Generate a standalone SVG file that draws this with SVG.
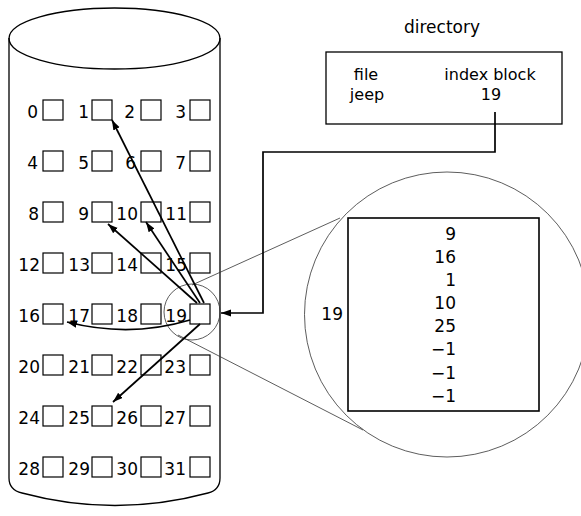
<svg xmlns="http://www.w3.org/2000/svg" width="581" height="516" viewBox="0 0 581 516">
<defs>
<marker id="ah" markerUnits="userSpaceOnUse" markerWidth="11" markerHeight="8" refX="10" refY="3.5" orient="auto">
<path d="M0,0 L10,3.5 L0,7 z" fill="#000"/>
</marker>
</defs>
<style>
text{font-family:"DejaVu Sans","Liberation Sans",sans-serif;font-size:17px;fill:#000}
.lbl{text-anchor:end}
.mid{text-anchor:middle}
.dir{font-size:16px}
.blk{fill:#fff;stroke:#000;stroke-width:1.2}
.outl{fill:none;stroke:#000;stroke-width:1.3}
.thin{fill:none;stroke:#333;stroke-width:0.8}
.arr{fill:none;stroke:#000;stroke-width:1.7;marker-end:url(#ah)}
</style>
<rect width="581" height="516" fill="#fff"/>
<g id="disk">
<path class="outl" d="M9,38 V478 Q9,490 22,493 Q115,518 208,493 Q220,490 220,478 V38"/>
<ellipse class="outl" cx="114.5" cy="38.5" rx="105.5" ry="30.5" fill="#fff"/>
</g>
<g id="blocks">
<g id="b0"><rect class="blk" x="43" y="100" width="20" height="20"/><text class="lbl" x="38" y="118">0</text></g>
<g id="b1"><rect class="blk" x="92" y="100" width="20" height="20"/><text class="lbl" x="89" y="118">1</text></g>
<g id="b2"><rect class="blk" x="141" y="100" width="20" height="20"/><text class="lbl" x="135" y="118">2</text></g>
<g id="b3"><rect class="blk" x="190" y="100" width="20" height="20"/><text class="lbl" x="186" y="118">3</text></g>
<g id="b4"><rect class="blk" x="43" y="151" width="20" height="20"/><text class="lbl" x="38" y="169">4</text></g>
<g id="b5"><rect class="blk" x="92" y="151" width="20" height="20"/><text class="lbl" x="89" y="169">5</text></g>
<g id="b6"><rect class="blk" x="141" y="151" width="20" height="20"/><text class="lbl" x="136" y="169">6</text></g>
<g id="b7"><rect class="blk" x="190" y="151" width="20" height="20"/><text class="lbl" x="186" y="169">7</text></g>
<g id="b8"><rect class="blk" x="43" y="202" width="20" height="20"/><text class="lbl" x="39" y="220">8</text></g>
<g id="b9"><rect class="blk" x="92" y="202" width="20" height="20"/><text class="lbl" x="89" y="220">9</text></g>
<g id="b10"><rect class="blk" x="141" y="202" width="20" height="20"/><text class="lbl" x="138" y="220">10</text></g>
<g id="b11"><rect class="blk" x="190" y="202" width="20" height="20"/><text class="lbl" x="187" y="220">11</text></g>
<g id="b12"><rect class="blk" x="43" y="253" width="20" height="20"/><text class="lbl" x="40" y="271">12</text></g>
<g id="b13"><rect class="blk" x="92" y="253" width="20" height="20"/><text class="lbl" x="90" y="271">13</text></g>
<g id="b14"><rect class="blk" x="141" y="253" width="20" height="20"/><text class="lbl" x="138" y="271">14</text></g>
<g id="b15"><rect class="blk" x="190" y="253" width="20" height="20"/><text class="lbl" x="187" y="271">15</text></g>
<g id="b16"><rect class="blk" x="43" y="304" width="20" height="20"/><text class="lbl" x="40" y="322">16</text></g>
<g id="b17"><rect class="blk" x="92" y="304" width="20" height="20"/><text class="lbl" x="90" y="322">17</text></g>
<g id="b18"><rect class="blk" x="141" y="304" width="20" height="20"/><text class="lbl" x="138" y="322">18</text></g>
<g id="b19"><rect class="blk" x="190" y="304" width="20" height="20"/><text class="lbl" x="187" y="322">19</text></g>
<g id="b20"><rect class="blk" x="43" y="355" width="20" height="20"/><text class="lbl" x="40" y="373">20</text></g>
<g id="b21"><rect class="blk" x="92" y="355" width="20" height="20"/><text class="lbl" x="90" y="373">21</text></g>
<g id="b22"><rect class="blk" x="141" y="355" width="20" height="20"/><text class="lbl" x="138" y="373">22</text></g>
<g id="b23"><rect class="blk" x="190" y="355" width="20" height="20"/><text class="lbl" x="186" y="373">23</text></g>
<g id="b24"><rect class="blk" x="43" y="406" width="20" height="20"/><text class="lbl" x="40" y="424">24</text></g>
<g id="b25"><rect class="blk" x="92" y="406" width="20" height="20"/><text class="lbl" x="90" y="424">25</text></g>
<g id="b26"><rect class="blk" x="141" y="406" width="20" height="20"/><text class="lbl" x="138" y="424">26</text></g>
<g id="b27"><rect class="blk" x="190" y="406" width="20" height="20"/><text class="lbl" x="186" y="424">27</text></g>
<g id="b28"><rect class="blk" x="43" y="457" width="20" height="20"/><text class="lbl" x="40" y="475">28</text></g>
<g id="b29"><rect class="blk" x="92" y="457" width="20" height="20"/><text class="lbl" x="90" y="475">29</text></g>
<g id="b30"><rect class="blk" x="141" y="457" width="20" height="20"/><text class="lbl" x="138" y="475">30</text></g>
<g id="b31"><rect class="blk" x="190" y="457" width="20" height="20"/><text class="lbl" x="186" y="475">31</text></g>
</g>
<g id="directory">
<text class="mid" x="442" y="33">directory</text>
<rect class="outl" x="326" y="52" width="236" height="72" fill="#fff"/>
<text class="mid dir" x="366" y="80">file</text>
<text class="mid dir" x="490" y="80">index block</text>
<text class="mid dir" x="367" y="100">jeep</text>
<text class="mid dir" x="491" y="100">19</text>
</g>
<g id="magnifier">
<circle class="thin" cx="192" cy="312" r="28"/>
<circle class="thin" cx="447" cy="314.5" r="142.5" stroke="#000" stroke-width="1"/>
<line class="thin" x1="192" y1="285" x2="340" y2="218"/>
<line class="thin" x1="178" y1="335" x2="363" y2="430"/>
</g>
<g id="index-block">
<rect x="348" y="218" width="191" height="193" fill="#fff" stroke="#000" stroke-width="1.6"/>
<text class="lbl" x="343" y="320">19</text>
<text class="lbl" x="456" y="240">9</text>
<text class="lbl" x="456" y="263">16</text>
<text class="lbl" x="456" y="286">1</text>
<text class="lbl" x="456" y="309">10</text>
<text class="lbl" x="456" y="332">25</text>
<text class="lbl" x="456" y="355">−1</text>
<text class="lbl" x="456" y="379">−1</text>
<text class="lbl" x="456" y="402">−1</text>
</g>
<g id="connectors">
<path class="arr" d="M495,112 V152 H263 V313 H221"/>
<path class="arr" d="M204,303 L112,120"/>
<path class="arr" d="M200,303 L146,222"/>
<path class="arr" d="M197,303 L108,224"/>
<path class="arr" d="M190,320 Q130,338 67,322"/>
<path class="arr" d="M200,324 L113,402"/>
</g>
</svg>
